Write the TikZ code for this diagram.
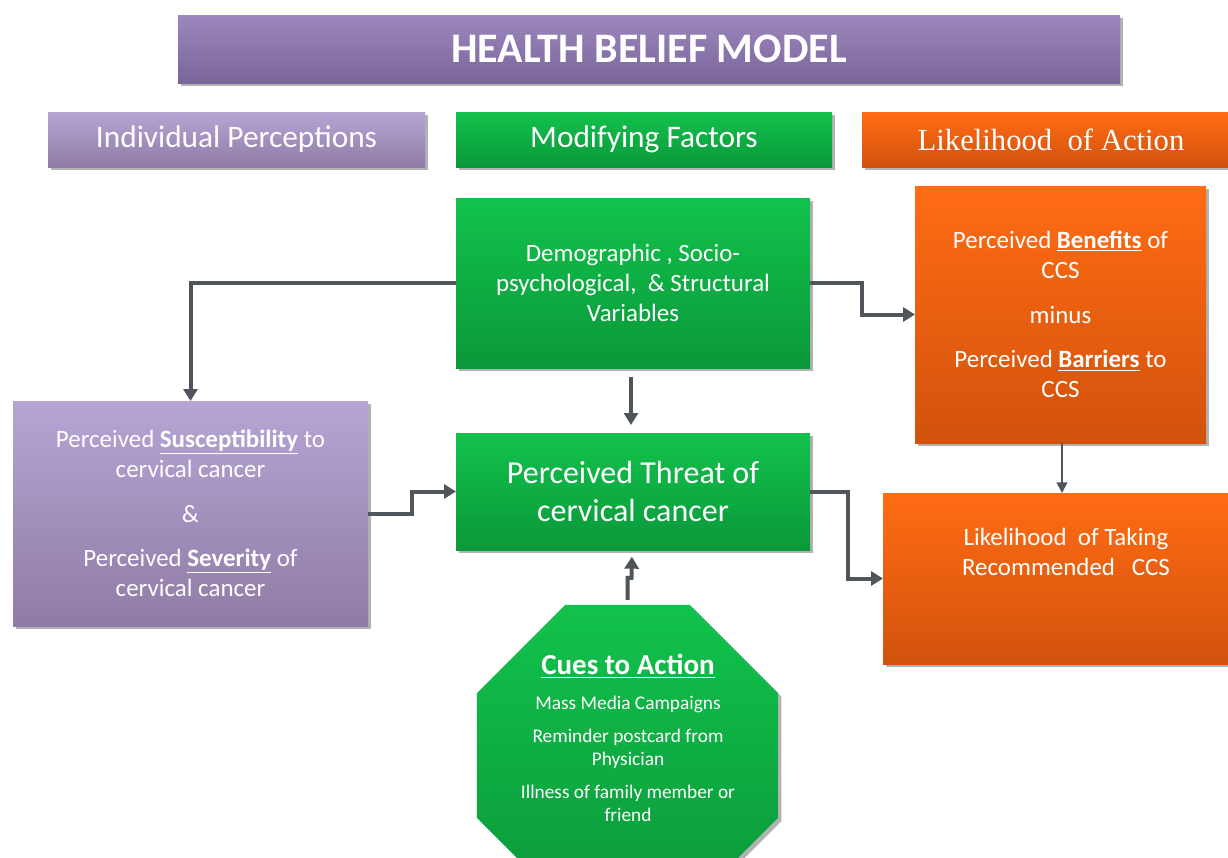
\documentclass[tikz,border=0pt]{standalone}
\usepackage{fontspec}
\setmainfont{Carlito}
\newfontfamily\headserif{Liberation Serif}
\usetikzlibrary{shapes.geometric,shadows,arrows.meta,calc}

\definecolor{hbmPurple}{HTML}{8C76AE}
\definecolor{hbmPurpleTop}{HTML}{9C88BE}
\definecolor{hbmPurpleBot}{HTML}{7A6598}
\definecolor{lilacTop}{HTML}{B6A5D4}
\definecolor{lilacBot}{HTML}{8F7CA6}
\definecolor{greenTop}{HTML}{12C24C}
\definecolor{greenBot}{HTML}{0A983A}
\definecolor{orangeTop}{HTML}{FF6C14}
\definecolor{orangeBot}{HTML}{D2520C}
\definecolor{linkgray}{HTML}{4F555B}

\tikzset{every picture/.style={line width=0.75pt}}
\tikzset{
  bevel/.style={drop shadow={shadow xshift=2.5pt,shadow yshift=-2.5pt,opacity=0.3,fill=black},
    path picture={\fill[white,opacity=0.2] (path picture bounding box.north west) rectangle ($(path picture bounding box.north east)+(0,6)$);}},
  boxtext/.style={text=white, align=center, inner sep=0.75pt, outer sep=0pt},
  purplebox/.style={bevel, boxtext, top color=hbmPurpleTop, bottom color=hbmPurpleBot},
  lilacbox/.style={bevel, boxtext, top color=lilacTop, bottom color=lilacBot},
  greenbox/.style={bevel, boxtext, top color=greenTop, bottom color=greenBot},
  orangebox/.style={bevel, boxtext, top color=orangeTop, bottom color=orangeBot},
  headfont/.style={font=\fontsize{23.5}{28}\selectfont},
  bodyfont/.style={font=\fontsize{18.7}{22.5}\selectfont},
  linkarrow/.style={draw=linkgray, line width=3pt, -{Triangle[length=9pt,width=10.5pt]}},
  thinarrow/.style={draw=linkgray, line width=1.5pt, -{Triangle[length=8pt,width=8pt]}},
}

\begin{document}
\begin{tikzpicture}[x=0.75pt,y=0.75pt,yscale=-1,xscale=1]
\useasboundingbox (0,0) rectangle (1228,857);
\fill[white] (0,0) rectangle (1228,857);
\clip (0,0) rectangle (1228,857);

%Shape: Rectangle (title)
\node[purplebox, minimum width=706.5pt, minimum height=51pt, font=\fontsize{31.5}{36}\selectfont\bfseries] (title) at (649,49) {HEALTH BELIEF MODEL};

%Shape: Rectangle (column heads)
\node[lilacbox, headfont, minimum width=282.75pt, minimum height=41.25pt] (indivhead) at (236.5,139.5) {Individual Perceptions};
\node[greenbox, headfont, minimum width=282pt, minimum height=41.25pt] (modifhead) at (644,139.5) {Modifying Factors};
\node[orangebox, font=\fontsize{23}{28}\headserif, minimum width=283.5pt, minimum height=41.25pt] (actionhead) at (1051,139.5) {Likelihood\ \ of Action};

%Shape: Rectangle (modifying factors)
\node[greenbox, bodyfont, minimum width=265.5pt, minimum height=127.5pt] (demog) at (633,283) {Demographic , Socio-\\psychological,\ \ \& Structural\\Variables};

%Shape: Rectangle (benefits minus barriers)
\node[orangebox, bodyfont, minimum width=218.25pt, minimum height=192.75pt] (benefits) at (1060.5,314.5) {Perceived \underline{\textbf{Benefits}} of\\CCS\\[11pt]minus\\[11pt]Perceived \underline{\textbf{Barriers}} to\\CCS};

%Shape: Rectangle (individual perceptions)
\node[lilacbox, bodyfont, minimum width=266.25pt, minimum height=168.75pt] (percep) at (190.5,513.5) {Perceived \underline{\textbf{Susceptibility}} to\\cervical cancer\\[11pt]\&\\[11pt]Perceived\ \underline{\textbf{Severity}} of\\cervical cancer};

%Shape: Rectangle (perceived threat)
\node[greenbox, font=\fontsize{24}{28.5}\selectfont, minimum width=265.5pt, minimum height=87.75pt] (threat) at (633,491.5) {Perceived Threat of\\cervical cancer};

%Shape: Rectangle (likelihood of taking action)
\node[orangebox, minimum width=267.75pt, minimum height=128.25pt] (taking) at (1061.5,578.5) {};
% Text Node
\node[boxtext, bodyfont] (takingtext) at (1066,552) {Likelihood\ \ of Taking\\Recommended\ \ \ CCS};

%Shape: Octagon (cues to action)
\node[greenbox, regular polygon, regular polygon sides=8, minimum size=244.4pt] (cuesshape) at (627.5,755.5) {};
% Text Node
\node[boxtext, font=\fontsize{14.5}{17}\selectfont] (cues) at (628,738) {{\fontsize{21.75}{24}\selectfont\bfseries\underline{Cues to Action}}\\[9pt]Mass Media Campaigns\\[8pt]Reminder postcard from\\Physician\\[8pt]Illness of family member or\\friend};

%Straight Lines
\draw[linkarrow] (demog.west) -| (percep.north);
\draw[linkarrow] (demog.east) -- ++(52,0) |- (benefits.west);
\draw[linkarrow, shorten <=7pt, shorten >=6pt] (demog.south -| 631,0) -- (threat.north -| 631,0);
\draw[linkarrow] (percep.east) -- ++(44,0) |- (threat.west);
\draw[linkarrow] (threat.east) -- ++(38,0) |- (taking.west);
\draw[thinarrow] (benefits.south -| 1062,0) -- (taking.north -| 1062,0);
\draw[linkarrow, shorten >=5pt] ($(cuesshape.north)+(0,-5)$) -- ++(0,-22) -- ++(4,0) -- (threat.south -| 632,0);

\end{tikzpicture}
\end{document}
